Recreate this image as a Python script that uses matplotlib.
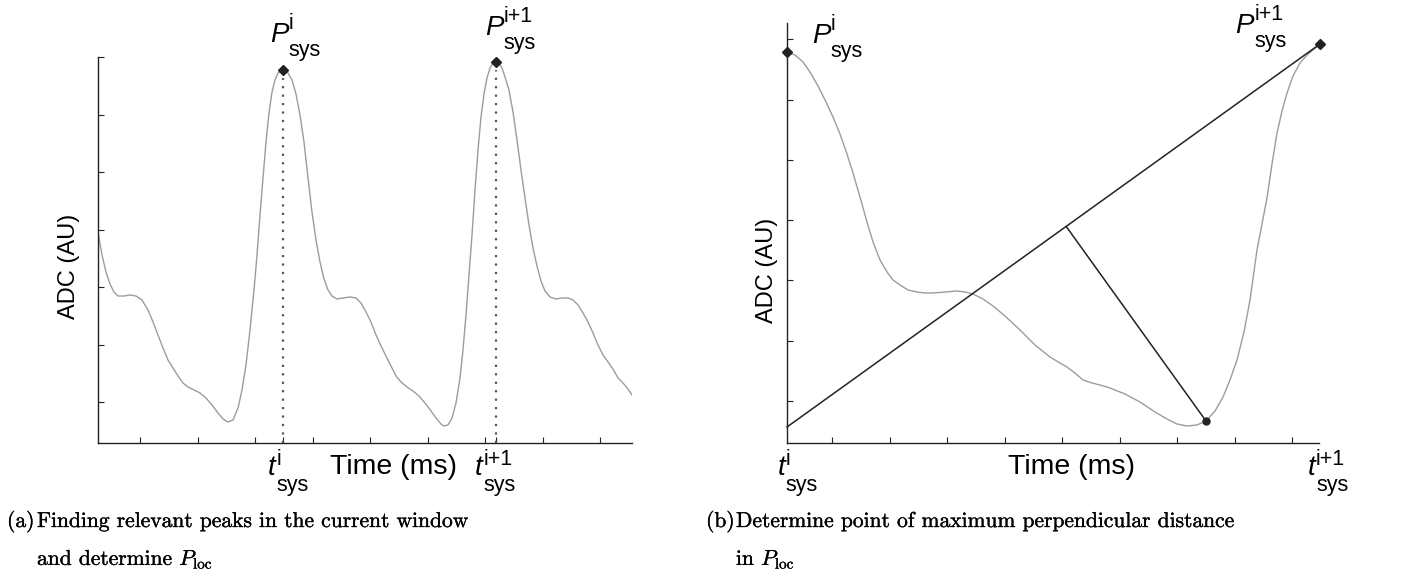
import numpy as np
import matplotlib
matplotlib.use("Agg")
import matplotlib.pyplot as plt
import matplotlib.patheffects as pe

plt.rcParams["font.family"] = "Liberation Sans"

# (a) two pulses in the current window, 2 ms per sample
time_a = [0, 8, 16, 24, 32, 40, 52, 64, 76, 88, 100, 110, 120, 130, 140, 150, 160, 170,
          180, 192, 204, 216, 228, 240, 250, 260, 270, 280, 288, 296, 304, 312, 318, 324,
          330, 336, 342, 348, 354, 360, 370, 380, 388, 396, 404, 412, 420, 428, 436, 444,
          452, 460, 468, 478, 490, 504, 516, 526, 536, 546, 556, 566, 576, 586, 596, 606,
          618, 630, 642, 654, 666, 676, 686, 692, 700, 708, 716, 724, 730, 736, 742, 748,
          754, 760, 766, 772, 778, 784, 790, 796, 802, 808, 814, 822, 830, 838, 846, 854,
          862, 870, 878, 886, 894, 904, 916, 928, 940, 950, 960, 970, 980, 990, 1000, 1010,
          1020, 1030, 1040, 1050, 1060, 1068]
adc_a = [211, 188, 171, 159, 151, 147, 147, 148, 147, 143, 133, 121, 108, 95, 83, 75, 67, 60,
         56, 53, 50, 45, 38, 30, 24, 21, 23, 35, 53, 78, 113, 153, 188, 228,
         265, 301, 330, 351, 363, 370, 373, 370, 363, 349, 328, 301, 265, 231, 203, 181,
         164, 153, 147, 144, 145, 146, 145, 140, 131, 121, 108, 97, 87, 77, 67, 61,
         56, 52, 47, 40, 32, 25, 19, 17, 18, 25, 40, 65, 93, 128, 168, 208,
         253, 293, 326, 349, 365, 375, 380, 381, 380, 375, 366, 353, 331, 303, 273, 245,
         218, 195, 177, 162, 152, 146, 144, 145, 145, 143, 138, 130, 121, 110, 98, 88,
         81, 74, 65, 60, 54, 48]
peak_t_a = [370, 796]
peak_adc_a = [373, 381]

# (b) one interval between consecutive systolic peaks
time_b = [0, 16, 32, 46, 62, 78, 92, 106, 120, 132, 146, 160, 172, 186, 200, 212, 226, 242,
          260, 276, 292, 316, 340, 356, 372, 392, 412, 436, 466, 496, 526, 546, 560, 576,
          592, 610, 626, 646, 676, 706, 736, 760, 780, 800, 820, 838, 856, 872, 886, 900,
          914, 926, 940, 950, 960, 970, 980, 990, 1000, 1012, 1026, 1040, 1052, 1066]
adc_b = [391, 388, 381, 371, 357, 341, 326, 309, 289, 270, 246, 221, 201, 183, 171, 163, 158, 153,
         151, 150, 150, 151, 152, 151, 149, 144, 137, 127, 113, 98, 86, 80, 76, 70,
         63, 60, 58, 55, 49, 41, 31, 24, 19, 17, 18, 22, 32, 46, 63, 83,
         111, 143, 193, 219, 245, 279, 310, 332, 350, 367, 380, 388, 393, 399]
peak_t_b = [0, 1066]
peak_adc_b = [391, 399]
chord_t = [0, 1066]
chord_adc = [16, 399]
far_t, far_adc = 838, 22

beat_sup = ["i", "i+1"]

CURVE = "#9c9c9c"
INK = "#222222"
FS = 20        # P and t symbols
SFS = 15.5     # their super/subscripts
DESC = 0.21 * FS  # text bbox bottom sits this far below the baseline

W, H = 1416, 576
fig = plt.figure(figsize=(W / 100, H / 100), dpi=100)


def style_axes(ax):
    for side in ("top", "right"):
        ax.spines[side].set_visible(False)
    for side in ("left", "bottom"):
        ax.spines[side].set_color(INK)
        ax.spines[side].set_linewidth(1.0)
    ax.tick_params(direction="in", length=4, width=0.8, color=INK,
                   labelbottom=False, labelleft=False)


def foot_of_perpendicular(ax, p, a, b):
    # perpendicular as seen on screen, so work in display space
    tr = ax.transData
    p, a, b = (tr.transform(q) for q in (p, a, b))
    d = b - a
    s = np.dot(p - a, d) / np.dot(d, d)
    return tr.inverted().transform(a + s * d)


def sys_label(ax, base, sup, xy, dx, dy, sup_dy, sub_dy, xycoords="data"):
    # italic symbol with an upright beat index above and "sys" below
    main = ax.annotate(base, xy, xycoords=xycoords, xytext=(dx, dy),
                       textcoords="offset points", ha="left", va="baseline",
                       fontsize=FS, fontstyle="italic", annotation_clip=False)
    for s, off in ((sup, sup_dy), ("sys", sub_dy)):
        ax.annotate(s, (1, 0), xycoords=main, xytext=(0.3, off + DESC),
                    textcoords="offset points", ha="left", va="baseline",
                    fontsize=SFS, annotation_clip=False)


# ---- (a) ----
ax1 = fig.add_axes([98 / W, 1 - 443 / H, 534 / W, 386 / H])
style_axes(ax1)
ax1.set_xlim(0, 1068)
ax1.set_ylim(0, 386)
ax1.set_xticks(list(np.arange(84, 1068, 115)) + peak_t_a)
ax1.set_yticks(np.arange(41, 390, 57.5))
ax1.plot(time_a, adc_a, color=CURVE, lw=1.0)
ax1.vlines(peak_t_a, 0, [v - 8 for v in peak_adc_a], colors="#555555",
           linestyles=(0, (1, 2.8)), lw=1.6)
ax1.plot(peak_t_a, peak_adc_a, "D", ms=5.5, color=INK, zorder=5, clip_on=False)

for t, v, sup, dx, dy in zip(peak_t_a, peak_adc_a, beat_sup, [-9.5, -8], [20, 19.5]):
    sys_label(ax1, "P", sup, (t, v), dx, dy, 9.5, -10)
for t, sup, dx in zip(peak_t_a, beat_sup, [-10.8, -15]):
    sys_label(ax1, "t", sup, (t, 0), dx, -23, 7.5, -11.5, xycoords=("data", "axes fraction"))
ax1.annotate("Time (ms)", (592, 0), xycoords=("data", "axes fraction"), xytext=(0, -22.5),
             textcoords="offset points", ha="center", va="baseline", fontsize=20.5)
ax1.text(-0.054, 0.4585, "ADC (AU)", transform=ax1.transAxes, rotation=90,
         ha="center", va="center", fontsize=17)

# ---- (b) ----
ax2 = fig.add_axes([787 / W, 1 - 443 / H, 532 / W, 420 / H])
style_axes(ax2)
ax2.set_xlim(0, 1064)
ax2.set_ylim(0, 420)
ax2.set_xticks(np.arange(90, 1064, 115))
ax2.set_yticks(np.arange(42, 420, 60.3))
ax2.plot(time_b, adc_b, color=CURVE, lw=1.0, clip_on=False)
ax2.plot(chord_t, chord_adc, color=INK, lw=1.1, clip_on=False)
foot = foot_of_perpendicular(ax2, (far_t, far_adc),
                             (chord_t[0], chord_adc[0]), (chord_t[1], chord_adc[1]))
ax2.plot([foot[0], far_t], [foot[1], far_adc], color=INK, lw=1.1)
ax2.plot([far_t], [far_adc], "o", ms=5, color=INK, zorder=5)
ax2.plot(peak_t_b, peak_adc_b, "D", ms=5.5, color=INK, zorder=5, clip_on=False)

for t, v, sup, dx, dy in zip(peak_t_b, peak_adc_b, beat_sup, [18, -61], [6.5, 8]):
    sys_label(ax2, "P", sup, (t, v), dx, dy, 9.5, -10)
for t, sup, dx in zip(chord_t, beat_sup, [-7, -8]):
    sys_label(ax2, "t", sup, (min(t, 1064), 0), dx, -23, 7.5, -11.5,
              xycoords=("data", "axes fraction"))
ax2.annotate("Time (ms)", (568, 0), xycoords=("data", "axes fraction"), xytext=(0, -22.5),
             textcoords="offset points", ha="center", va="baseline", fontsize=20.5)
ax2.text(-0.0376, 0.412, "ADC (AU)", transform=ax2.transAxes, rotation=90,
         ha="center", va="center", fontsize=17)

# ---- captions ----
cap = dict(fontfamily="cmr10", math_fontfamily="cm", fontsize=15.5, va="baseline",
           path_effects=[pe.withStroke(linewidth=0.25, foreground="black")])
fig.text(7 / W, 1 - 527 / H, "(a)", **cap)
fig.text(37 / W, 1 - 527 / H, "Finding relevant peaks in the current window", **cap)
fig.text(37 / W, 1 - 565 / H, r"and determine $P_{\mathrm{loc}}$", **cap)
fig.text(706 / W, 1 - 527 / H, "(b)", **cap)
fig.text(736 / W, 1 - 527 / H, "Determine point of maximum perpendicular distance", **cap)
fig.text(736 / W, 1 - 565 / H, r"in $P_{\mathrm{loc}}$", **cap)

fig.savefig("out.png", dpi=100)
